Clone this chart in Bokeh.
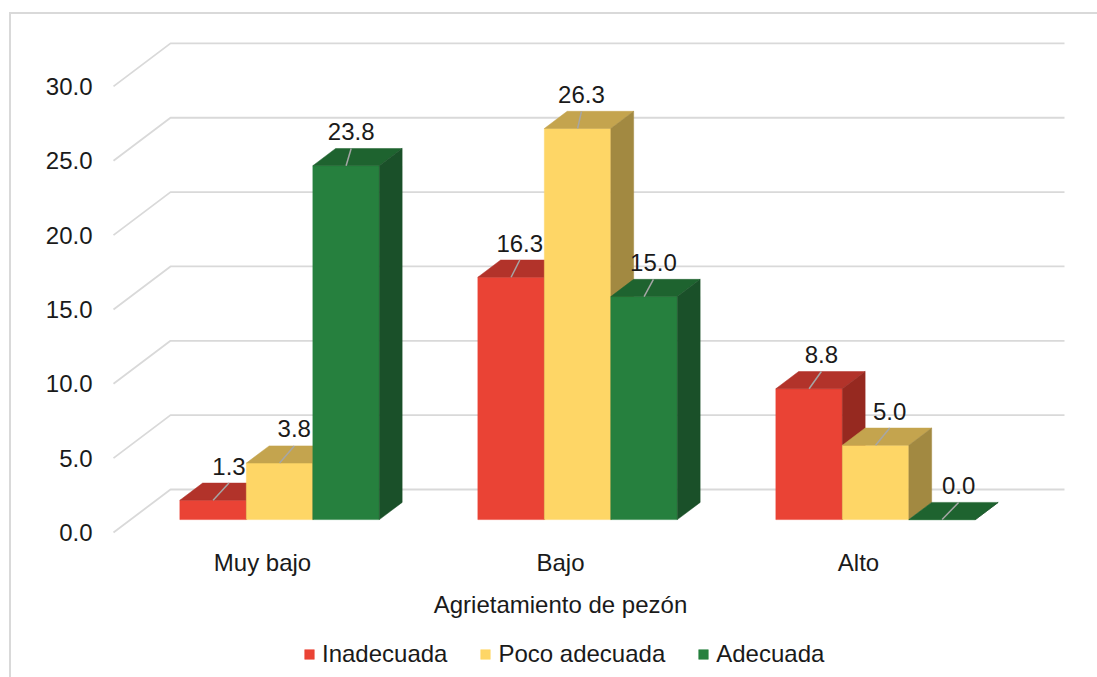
from bokeh.plotting import figure
from bokeh.models import (Range1d, FixedTicker, PrintfTickFormatter,
                          Legend, LegendItem)
from bokeh.core.properties import value
from bokeh.embed import file_html
from bokeh.resources import INLINE

# ---------------- data ----------------
categories = ["Muy bajo", "Bajo", "Alto"]
series_names = ["Inadecuada", "Poco adecuada", "Adecuada"]
inadecuada = [1.3, 16.3, 8.8]
poco_adecuada = [3.8, 26.3, 5.0]
adecuada = [23.8, 15.0, 0.0]
y_ticks = [0, 5, 10, 15, 20, 25, 30]
x_title = "Agrietamiento de pezón"

series_values = [inadecuada, poco_adecuada, adecuada]

# ---------------- style ----------------
front_colors = ["#EA4335", "#FED666", "#26803E"]
top_colors = ["#B2332A", "#C4A44E", "#1E632F"]
side_colors = ["#962920", "#A28941", "#1A5029"]
GRID = "#D9D9D9"
LEADER = "#A6A6A6"
FONT = "Liberation Sans"
FS = "24px"
TXT = "#1A1A1A"

W, H = 1097, 677
LEFT_BORDER = 100         # px reserved for the y axis
PX = 298.0                # px per category unit
PY = 14.87                # px per value unit
FLOOR_LEFT_PX = 13        # px from frame left to the front-left floor corner
ZERO_PX = 532             # px from frame top to value 0 on the front plane
DX = 57.0 / PX            # depth offset (x) in data units
DY = 43.0 / PY            # depth offset (y) in data units
BW = 66.5 / PX            # bar width
D0, D1 = 0.3, 0.7         # bar depth start / end (fraction of floor depth)

frame_w = W - LEFT_BORDER
x_start = -0.5 - FLOOR_LEFT_PX / PX
x_end = x_start + frame_w / PX
y_end = ZERO_PX / PY
y_start = -(H - ZERO_PX) / PY

p = figure(width=W, height=H, output_backend="svg", toolbar_location=None,
           x_range=Range1d(x_start, x_end), y_range=Range1d(y_start, y_end),
           x_axis_type=None, min_border_left=LEFT_BORDER, min_border_right=0,
           min_border_top=0, min_border_bottom=0)
p.grid.visible = False
p.outline_line_color = None
p.background_fill_color = None
p.border_fill_color = None
# outer chart-area border (top and left edges), drawn behind the transparent canvas
p.styles = {
    "background-color": "white",
    "background-image": "linear-gradient(#D9D9D9, #D9D9D9), linear-gradient(#D9D9D9, #D9D9D9)",
    "background-repeat": "no-repeat",
    "background-position": "9px 12px, 9px 12px",
    "background-size": "2px 100%, 100% 2px",
}

# y axis
ya = p.yaxis[0]
ya.ticker = FixedTicker(ticks=y_ticks)
ya.formatter = PrintfTickFormatter(format="%.1f")
ya.axis_line_color = None
ya.major_tick_line_color = None
ya.minor_tick_line_color = None
ya.major_tick_out = 0
ya.major_tick_in = 0
ya.major_label_standoff = 8
ya.major_label_text_font = FONT
ya.major_label_text_font_size = FS
ya.major_label_text_color = TXT

# gridlines: front diagonal + back wall line
n = len(categories)
gxs, gys = [], []
for v in y_ticks:
    gxs.append([-0.5, -0.5 + DX, n - 0.5 + DX])
    gys.append([v, v + DY, v + DY])
p.multi_line(gxs, gys, line_color=GRID, line_width=1.8)

# bars
legend_items = []
lx0, ly0, lx1, ly1, ltxt = [], [], [], [], []
for k, vals in enumerate(series_values):
    left, right, bottom, top = [], [], [], []
    txs, tys, sxs, sys_ = [], [], [], []
    for i, v in enumerate(vals):
        xc = i + (k - 1) * BW + D0 * DX
        xl, xr = xc - BW / 2, xc + BW / 2
        yb = D0 * DY
        yt = v + D0 * DY
        ddx, ddy = (D1 - D0) * DX, (D1 - D0) * DY
        left.append(xl); right.append(xr); bottom.append(yb); top.append(yt)
        txs.append([xl, xr, xr + ddx, xl + ddx])
        tys.append([yt, yt, yt + ddy, yt + ddy])
        sxs.append([xr, xr, xr + ddx, xr + ddx])
        sys_.append([yb, yt, yt + ddy, yb + ddy])
        ldx = (16.5 - 0.48 * v) / PX
        lx0.append(xc); ly0.append(yt)
        lx1.append(xc + ldx); ly1.append(yt + ddy)
        ltxt.append(f"{v:.1f}")
    r = p.quad(left=left, right=right, bottom=bottom, top=top,
               fill_color=front_colors[k], line_color=front_colors[k], line_width=0.5)
    p.patches(txs, tys, fill_color=top_colors[k], line_color=top_colors[k], line_width=0.5)
    p.patches(sxs, sys_, fill_color=side_colors[k], line_color=side_colors[k], line_width=0.5)
    legend_items.append(LegendItem(label=series_names[k], renderers=[r]))

# data labels with leader lines
p.segment(x0=lx0, y0=ly0, x1=lx1, y1=ly1, line_color=LEADER, line_width=1.5)
p.text(x=lx1, y=[y + 17 / PY for y in ly1], text=ltxt,
       text_align="center", text_baseline="middle",
       text_font=value(FONT), text_font_size=FS, text_color=TXT)

# category labels and axis title
p.text(x=list(range(n)), y=[-30 / PY] * n, text=categories,
       text_align="center", text_baseline="middle",
       text_font=value(FONT), text_font_size=FS, text_color=TXT)
p.text(x=[(n - 1) / 2], y=[-72 / PY], text=[x_title],
       text_align="center", text_baseline="middle",
       text_font=value(FONT), text_font_size=FS, text_color=TXT)

legend = Legend(items=legend_items, orientation="horizontal", location=(203, 9),
                padding=0, margin=0, border_line_alpha=0, background_fill_alpha=0,
                glyph_width=12, glyph_height=12, label_standoff=7, spacing=32,
                label_text_font=FONT, label_text_font_size=FS, label_text_color=TXT)
p.add_layout(legend)

open("out.html", "w").write(file_html(p, INLINE))
